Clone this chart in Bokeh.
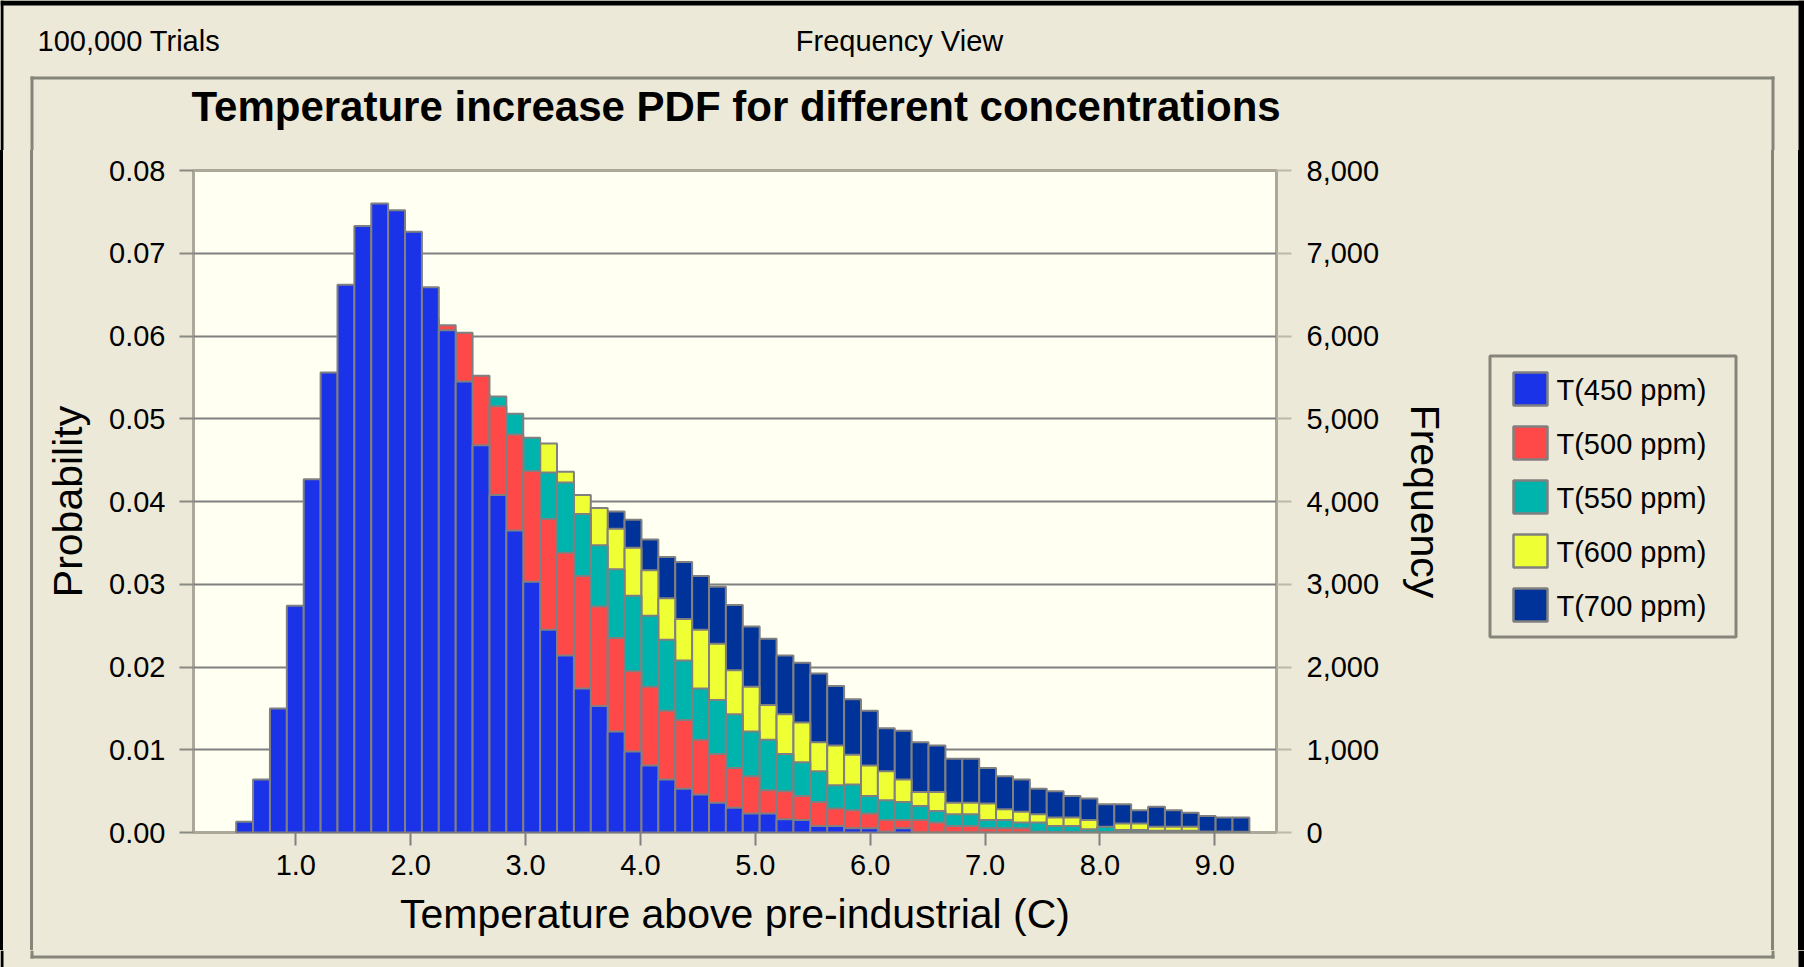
from bokeh.plotting import figure
from bokeh.layouts import column, row
from bokeh.models import (Range1d, LinearAxis, FixedTicker, NumeralTickFormatter,
                          ColumnDataSource, Spacer)
from bokeh.core.properties import value
from bokeh.embed import file_html
from bokeh.resources import INLINE

# ---------------- data ----------------
trials = 100000
bin_start = 0.481     # left edge of first histogram bin (deg C)
bin_width = 0.147     # histogram bin width (deg C)

p450 = [0.0013, 0.0064, 0.0150, 0.0274, 0.0427, 0.0556, 0.0662, 0.0733, 0.0760, 0.0752,
        0.0726, 0.0659, 0.0607, 0.0545, 0.0468, 0.0408, 0.0365, 0.0303, 0.0245, 0.0214,
        0.0174, 0.0153, 0.0122, 0.0098, 0.0081, 0.0064, 0.0053, 0.0046, 0.0036, 0.0030,
        0.0023, 0.0023, 0.0016, 0.0015, 0.0008, 0.0008, 0.0005, 0.0005, 0.0001, 0.0005,
        0.0, 0.0, 0.0, 0.0, 0.0, 0.0, 0.0, 0.0, 0.0, 0.0,
        0.0, 0.0, 0.0, 0.0, 0.0, 0.0, 0.0, 0.0, 0.0, 0.0]
p500 = [0.0003, 0.0020, 0.0055, 0.0120, 0.0210, 0.0310, 0.0410, 0.0490, 0.0550, 0.0590,
        0.0610, 0.0620, 0.0613, 0.0604, 0.0552, 0.0515, 0.0481, 0.0437, 0.0379, 0.0338,
        0.0310, 0.0273, 0.0235, 0.0195, 0.0176, 0.0147, 0.0136, 0.0112, 0.0095, 0.0078,
        0.0068, 0.0051, 0.0050, 0.0044, 0.0037, 0.0029, 0.0027, 0.0023, 0.0015, 0.0015,
        0.0015, 0.0012, 0.0008, 0.0008, 0.0005, 0.0005, 0.0005, 0.0001, 0.0, 0.0,
        0.0, 0.0, 0.0, 0.0, 0.0, 0.0, 0.0, 0.0, 0.0, 0.0]
p550 = [0.0001, 0.0010, 0.0030, 0.0070, 0.0130, 0.0200, 0.0270, 0.0340, 0.0400, 0.0450,
        0.0490, 0.0510, 0.0525, 0.0530, 0.0530, 0.0527, 0.0506, 0.0477, 0.0435, 0.0423,
        0.0385, 0.0347, 0.0318, 0.0286, 0.0262, 0.0233, 0.0208, 0.0174, 0.0160, 0.0143,
        0.0122, 0.0112, 0.0095, 0.0085, 0.0074, 0.0057, 0.0058, 0.0044, 0.0039, 0.0037,
        0.0032, 0.0026, 0.0022, 0.0022, 0.0015, 0.0015, 0.0012, 0.0012, 0.0008, 0.0008,
        0.0004, 0.0007, 0.0003, 0.0003, 0.0002, 0.0002, 0.0002, 0.0001, 0.0001, 0.0001]
p600 = [0.0000, 0.0005, 0.0018, 0.0045, 0.0090, 0.0150, 0.0210, 0.0270, 0.0320, 0.0370,
        0.0410, 0.0440, 0.0460, 0.0470, 0.0475, 0.0475, 0.0470, 0.0465, 0.0470, 0.0436,
        0.0408, 0.0392, 0.0367, 0.0344, 0.0317, 0.0283, 0.0258, 0.0245, 0.0228, 0.0196,
        0.0176, 0.0154, 0.0143, 0.0133, 0.0109, 0.0105, 0.0094, 0.0081, 0.0074, 0.0064,
        0.0049, 0.0049, 0.0036, 0.0036, 0.0035, 0.0028, 0.0025, 0.0022, 0.0018, 0.0018,
        0.0015, 0.0006, 0.0011, 0.0011, 0.0007, 0.0007, 0.0007, 0.0001, 0.0001, 0.0000]
p700 = [0.0000, 0.0003, 0.0010, 0.0025, 0.0050, 0.0085, 0.0125, 0.0165, 0.0205, 0.0240,
        0.0275, 0.0300, 0.0325, 0.0345, 0.0360, 0.0370, 0.0378, 0.0383, 0.0385, 0.0385,
        0.0385, 0.0385, 0.0388, 0.0378, 0.0354, 0.0333, 0.0327, 0.0310, 0.0297, 0.0275,
        0.0249, 0.0234, 0.0214, 0.0205, 0.0192, 0.0177, 0.0161, 0.0147, 0.0126, 0.0123,
        0.0109, 0.0105, 0.0089, 0.0089, 0.0078, 0.0068, 0.0064, 0.0053, 0.0050, 0.0044,
        0.0041, 0.0034, 0.0034, 0.0027, 0.0031, 0.0027, 0.0024, 0.0020, 0.0018, 0.0018]

series_names = ["T(450 ppm)", "T(500 ppm)", "T(550 ppm)", "T(600 ppm)", "T(700 ppm)"]
series_values = [p450, p500, p550, p600, p700]
series_colors = ["#1A33E8", "#FF4848", "#00B4AE", "#EEFF33", "#003399"]

prob_ticks = [0.0, 0.01, 0.02, 0.03, 0.04, 0.05, 0.06, 0.07, 0.08]
freq_ticks = [0, 1000, 2000, 3000, 4000, 5000, 6000, 7000, 8000]
temp_ticks = [1.0, 2.0, 3.0, 4.0, 5.0, 6.0, 7.0, 8.0, 9.0]

title_text = "Temperature increase PDF for different concentrations"
view_text = "Frequency View"
x_label = "Temperature above pre-industrial (C)"
y_label = "Probability"
y2_label = "Frequency"

# ---------------- styling / layout ----------------
FONT = "Liberation Sans"
BG = "#ECE9D8"
PLOT_BG = "#FFFFF2"
PANEL_LINE = "#86857A"
W, H = 1804, 967
HEAD_H = 150          # header strip height
MID_H = 800           # middle row height
FOOT_H = H - HEAD_H - MID_H
LEFT_W = 40
MAIN_R = 1460         # right edge of the main chart figure on the page
RIGHT_W = W - MAIN_R
MAIN_W = MAIN_R - LEFT_W
FL, FR, FT, FB = 193, 1276, 170, 832   # plot frame edges on the page

PX_L, PX_R = 30, 1774                   # panel border (outer x edges)
PY_T, PY_B = 76, 958                    # panel border (outer y edges)
LW = 3                                  # panel line width


def strip(w, h):
    f = figure(width=w, height=h, output_backend="svg", toolbar_location=None,
               x_range=Range1d(0, w), y_range=Range1d(h, 0),
               x_axis_type=None, y_axis_type=None,
               min_border_left=0, min_border_right=0, min_border_top=0, min_border_bottom=0)
    f.outline_line_color = None
    f.background_fill_color = BG
    f.border_fill_color = BG
    f.grid.visible = False
    return f


def box(f, l, r, t, b, color):
    f.quad(left=[l], right=[r], top=[t], bottom=[b], fill_color=color, line_color=None)


# ---------- header ----------
hd = strip(W, HEAD_H)
box(hd, 0, W, 0, 5, "black")
box(hd, 0, 3, 0, HEAD_H, "black")
box(hd, W - 6, W, 0, HEAD_H, "black")
box(hd, PX_L, PX_R, PY_T, PY_T + LW, PANEL_LINE)
box(hd, PX_L, PX_L + LW, PY_T, HEAD_H, PANEL_LINE)
box(hd, PX_R - LW, PX_R, PY_T, HEAD_H, PANEL_LINE)
hd.text(x=[37], y=[40], text=[f"{trials:,} Trials"], text_font=value(FONT),
        text_font_size=value("29px"), text_baseline="middle", text_align="left",
        text_color="black")
hd.text(x=[899], y=[40], text=[view_text], text_font=value(FONT),
        text_font_size=value("29px"), text_baseline="middle", text_align="center",
        text_color="black")
hd.text(x=[191], y=[106], text=[title_text], text_font=value(FONT),
        text_font_size=value("42px"), text_font_style="bold",
        text_baseline="middle", text_align="left", text_color="black")

# ---------- left strip (CSS stripes) ----------
left_sp = Spacer(width=LEFT_W, height=MID_H, styles={
    "background": (f"linear-gradient(to right, black 0px, black 3px, {BG} 3px, {BG} {PX_L}px, "
                   f"{PANEL_LINE} {PX_L}px, {PANEL_LINE} {PX_L + LW}px, {BG} {PX_L + LW}px, {BG} 100%)")})

# ---------- main chart ----------
x_lo, x_hi = 0.1095, 9.537
p = figure(width=MAIN_W, height=MID_H, output_backend="svg", toolbar_location=None,
           x_range=Range1d(x_lo, x_hi), y_range=Range1d(0, prob_ticks[-1]),
           min_border_left=FL - LEFT_W, min_border_right=MAIN_R - FR,
           min_border_top=FT - HEAD_H, min_border_bottom=HEAD_H + MID_H - FB)
p.background_fill_color = PLOT_BG
p.border_fill_color = BG
p.outline_line_color = "#ACA899"
p.outline_line_width = 3
p.extra_y_ranges = {"freq": Range1d(0, prob_ticks[-1] * trials)}

n = len(p450)
lefts = [bin_start + i * bin_width for i in range(n)]
rights = [l + bin_width for l in lefts]

# overlay: 450 ppm in front, 700 ppm at the back
for vals, col in reversed(list(zip(series_values, series_colors))):
    src = ColumnDataSource(dict(left=lefts, right=rights, top=vals, bottom=[0.0] * n))
    p.quad(left="left", right="right", top="top", bottom="bottom", source=src,
           fill_color=col, line_color="#808080", line_width=2)

p.xgrid.grid_line_color = None
p.ygrid.ticker = FixedTicker(ticks=prob_ticks)
p.ygrid.grid_line_color = "#808080"
p.ygrid.grid_line_width = 2


def style_axis(ax, tick_out, label_standoff, axis_standoff, tick_color):
    ax.axis_label_text_font = FONT
    ax.axis_label_text_font_size = "41px"
    ax.axis_label_text_font_style = "normal"
    ax.axis_label_text_color = "black"
    ax.axis_label_standoff = axis_standoff
    ax.major_label_text_font = FONT
    ax.major_label_text_font_size = "29px"
    ax.major_label_text_color = "black"
    ax.major_label_standoff = label_standoff
    ax.major_tick_out = tick_out
    ax.major_tick_in = 0
    ax.major_tick_line_color = tick_color
    ax.major_tick_line_width = 2
    ax.minor_tick_line_color = None
    ax.axis_line_color = None


xa = p.xaxis[0]
xa.ticker = FixedTicker(ticks=temp_ticks)
xa.formatter = NumeralTickFormatter(format="0.0")
xa.axis_label = x_label
style_axis(xa, 13, 9, 13, "#808080")

ya = p.yaxis[0]
ya.ticker = FixedTicker(ticks=prob_ticks)
ya.formatter = NumeralTickFormatter(format="0.00")
ya.axis_label = y_label
style_axis(ya, 14, 14, 15, "#8A8A84")

ra = LinearAxis(y_range_name="freq", ticker=FixedTicker(ticks=freq_ticks),
                formatter=NumeralTickFormatter(format="0,0"))
ra.axis_label = y2_label
style_axis(ra, 15, 15, 20, "#BDB9A8")
p.add_layout(ra, "right")

# ---------- right figure: legend (frame aligned with the chart frame) ----------
rt = figure(width=RIGHT_W, height=MID_H, output_backend="svg", toolbar_location=None,
            x_range=Range1d(MAIN_R, W), y_range=Range1d(FB, FT),
            x_axis_type=None, y_axis_type=None,
            min_border_left=0, min_border_right=0,
            min_border_top=FT - HEAD_H, min_border_bottom=HEAD_H + MID_H - FB,
            styles={"background": (
                f"linear-gradient(to right, {BG} 0px, {BG} {PX_R - LW - MAIN_R}px, "
                f"{PANEL_LINE} {PX_R - LW - MAIN_R}px, {PANEL_LINE} {PX_R - MAIN_R}px, "
                f"{BG} {PX_R - MAIN_R}px, {BG} {RIGHT_W - 6}px, black {RIGHT_W - 6}px, black 100%)")})
rt.outline_line_color = None
rt.background_fill_alpha = 0
rt.border_fill_alpha = 0
rt.grid.visible = False

lg_l, lg_r, lg_t, lg_b = 1488, 1737, 354, 638
rt.quad(left=[lg_l + 1.5], right=[lg_r - 1.5], top=[lg_t + 1.5], bottom=[lg_b - 1.5],
        fill_color=BG, line_color=PANEL_LINE, line_width=3)
sw_l, sw_t0, step = 1512, 371, 54
for i, (nm, col) in enumerate(zip(series_names, series_colors)):
    t = sw_t0 + i * step
    rt.quad(left=[sw_l + 1], right=[sw_l + 35], top=[t + 1], bottom=[t + 34],
            fill_color=col, line_color="#808080", line_width=2.5)
    rt.text(x=[1556], y=[t + 18], text=[nm], text_font=value(FONT),
            text_font_size=value("29px"), text_baseline="middle", text_align="left",
            text_color="black")

# ---------- footer ----------
ft = strip(W, FOOT_H)
box(ft, 0, 3, 0, FOOT_H, "black")
box(ft, W - 6, W, 0, FOOT_H, "black")
box(ft, PX_L, PX_L + LW, 0, PY_B - HEAD_H - MID_H, PANEL_LINE)
box(ft, PX_R - LW, PX_R, 0, PY_B - HEAD_H - MID_H, PANEL_LINE)
box(ft, PX_L, PX_R, PY_B - LW - HEAD_H - MID_H, PY_B - HEAD_H - MID_H, PANEL_LINE)

page = column(hd, row(left_sp, p, rt, styles={"background-color": BG}), ft,
              styles={"background-color": BG})
open("out.html", "w").write(file_html(page, INLINE))
